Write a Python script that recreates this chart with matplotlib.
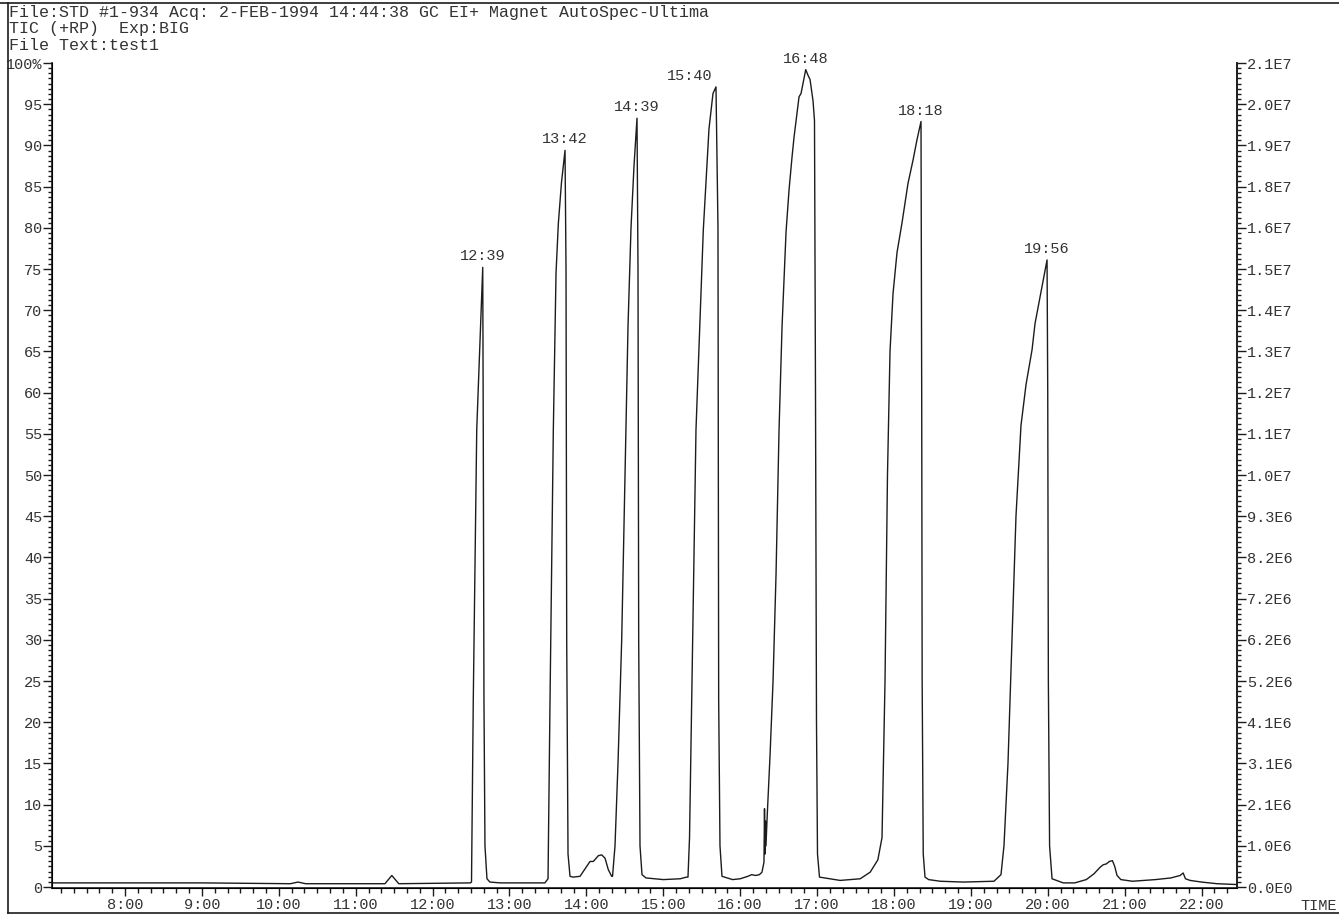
import numpy as np
import matplotlib.pyplot as plt
from matplotlib.lines import Line2D
from matplotlib.ticker import MultipleLocator

plt.rcParams['font.family'] = ['Liberation Mono', 'DejaVu Sans Mono']

# TIC trace: retention time (minutes) and intensity (% of full scale)
time_min = [
    7.051, 9.000, 10.15, 10.25, 10.35, 11.38, 11.47, 11.56, 12.49,
    12.506, 12.529, 12.574, 12.616, 12.652, 12.659, 12.668, 12.681, 12.707, 12.746, 12.88, 13.46,
    13.501, 13.527, 13.570, 13.605, 13.635, 13.676, 13.722, 13.735, 13.744, 13.761, 13.787,
    13.826, 13.917, 14.004, 14.047, 14.090, 14.155, 14.199, 14.242, 14.285, 14.329, 14.340,
    14.372, 14.411, 14.459, 14.502, 14.541, 14.580, 14.619, 14.658, 14.671, 14.680, 14.697, 14.723, 14.775,
    15.00, 15.22, 15.30, 15.321, 15.341, 15.369, 15.425, 15.520, 15.594, 15.646, 15.685, 15.711, 15.720, 15.737, 15.763,
    15.90, 16.00, 16.10, 16.15, 16.20, 16.25, 16.283, 16.309, 16.316, 16.322, 16.329, 16.335, 16.348, 16.388, 16.427,
    16.466, 16.505, 16.544, 16.596, 16.635, 16.674, 16.700, 16.765, 16.791, 16.852, 16.882, 16.908, 16.947, 16.966,
    16.979, 16.992, 17.005, 17.031,
    17.30, 17.56, 17.69, 17.79, 17.844, 17.883, 17.915, 17.948, 17.987, 18.039, 18.104, 18.182, 18.247, 18.299,
    18.351, 18.360, 18.366, 18.380, 18.403, 18.45,
    18.60, 18.90, 19.30, 19.391, 19.430, 19.482, 19.534, 19.586, 19.651, 19.717, 19.795, 19.834, 19.899, 19.990,
    19.999, 20.007, 20.023, 20.055,
    20.20, 20.35, 20.50, 20.60, 20.68, 20.72, 20.76, 20.80, 20.84, 20.87, 20.90, 20.95, 21.10, 21.40, 21.60, 21.72,
    21.76, 21.79, 21.85, 22.00, 22.20, 22.46,
]
intensity_pct = [
    0.5, 0.5, 0.4, 0.6, 0.4, 0.4, 1.4, 0.4, 0.5,
    0.6, 22.7, 55.5, 66.0, 75.2, 55.0, 22.7, 5.0, 1.0, 0.6, 0.5, 0.5,
    1.0, 22.7, 55.5, 74.5, 80.5, 85.5, 89.4, 75.0, 30.0, 4.0, 1.3,
    1.2, 1.3, 2.5, 3.1, 3.1, 3.8, 3.9, 3.5, 2.1, 1.3, 1.3,
    5.0, 15.0, 30.0, 50.0, 68.0, 80.0, 87.5, 93.3, 75.0, 30.0, 5.0, 1.5, 1.1,
    0.9, 1.0, 1.2, 1.2, 6.0, 22.7, 55.5, 79.7, 92.0, 96.3, 97.1, 80.0, 22.7, 5.0, 1.3,
    0.9, 1.0, 1.3, 1.5, 1.4, 1.5, 1.8, 3.0, 9.5, 4.0, 8.0, 5.0, 8.0, 16.0, 25.0,
    38.0, 55.5, 68.0, 79.5, 84.6, 88.6, 91.0, 95.9, 96.3, 99.2, 98.5, 98.0, 95.4, 93.0,
    60.0, 20.0, 4.0, 1.2,
    0.8, 1.0, 1.8, 3.3, 6.0, 25.0, 50.0, 65.0, 72.0, 77.0, 80.6, 85.4, 88.2, 90.7,
    92.9, 60.0, 25.0, 4.0, 1.2, 0.9,
    0.7, 0.6, 0.7, 1.5, 5.0, 15.0, 30.0, 45.0, 56.0, 61.0, 65.2, 68.4, 71.6, 76.1,
    60.0, 25.0, 5.0, 1.0,
    0.5, 0.5, 0.9, 1.6, 2.4, 2.7, 2.8, 3.1, 3.2, 2.5, 1.4, 0.9, 0.7, 0.9, 1.1, 1.4,
    1.7, 1.0, 0.8, 0.6, 0.4, 0.3,
]

# peak annotations (label text, apex time in trace)
peak_labels = ['12:39', '13:42', '14:39', '15:40', '16:48', '18:18', '19:56']
peak_times = [12.652, 13.722, 14.658, 15.685, 16.852, 18.351, 19.990]

header_lines = [
    'File:STD #1-934 Acq: 2-FEB-1994 14:44:38 GC EI+ Magnet AutoSpec-Ultima',
    'TIC (+RP)  Exp:BIG',
    'File Text:test1',
]

x_ticks = [8, 9, 10, 11, 12, 13, 14, 15, 16, 17, 18, 19, 20, 21, 22]
x_tick_labels = ['8:00', '9:00', '10:00', '11:00', '12:00', '13:00', '14:00', '15:00',
                 '16:00', '17:00', '18:00', '19:00', '20:00', '21:00', '22:00']
y_ticks = [0, 5, 10, 15, 20, 25, 30, 35, 40, 45, 50, 55, 60, 65, 70, 75, 80, 85, 90, 95, 100]
y_left_labels = ['0', '5', '10', '15', '20', '25', '30', '35', '40', '45', '50', '55', '60',
                 '65', '70', '75', '80', '85', '90', '95', '100%']
y_right_labels = ['0.0E0', '1.0E6', '2.1E6', '3.1E6', '4.1E6', '5.2E6', '6.2E6', '7.2E6',
                  '8.2E6', '9.3E6', '1.0E7', '1.1E7', '1.2E7', '1.3E7', '1.4E7', '1.5E7',
                  '1.6E7', '1.8E7', '1.9E7', '2.0E7', '2.1E7']

W, H = 1339, 921
ink = '#1c1c1c'
txt = '#333333'
fig = plt.figure(figsize=(W / 100, H / 100), dpi=100)
ax = fig.add_axes([52 / W, 33 / H, (1237 - 52) / W, (888 - 63) / H])

ax.plot(time_min, intensity_pct, color=ink, lw=1.0)
ax.set_xlim(7.051, 22.46)
ax.set_ylim(-0.12, 100)

ax.spines['top'].set_visible(False)
for s in ['left', 'right', 'bottom']:
    ax.spines[s].set_color(ink)
    ax.spines[s].set_linewidth(1.2)

ax.set_xticks(x_ticks, x_tick_labels)
ax.xaxis.set_minor_locator(MultipleLocator(1 / 6))
ax.tick_params(axis='x', which='major', direction='out', length=6, width=1, pad=1.5,
               labelsize=11, color=ink, labelcolor=txt)
ax.tick_params(axis='x', which='minor', direction='out', length=3.5, width=1, color=ink)

ax.set_yticks(y_ticks, y_left_labels)
ax.yaxis.set_minor_locator(MultipleLocator(0.625))
ax.tick_params(axis='y', which='major', direction='out', length=6.5, width=1, pad=0.5,
               labelsize=11, color=ink, labelcolor=txt)
ax.tick_params(axis='y', which='minor', direction='out', length=3, width=1, color=ink)

ax2 = ax.twinx()
ax2.set_ylim(ax.get_ylim())
ax2.spines['top'].set_visible(False)
ax2.spines['right'].set_color(ink)
ax2.spines['right'].set_linewidth(1.2)
ax2.set_yticks(y_ticks, y_right_labels)
ax2.yaxis.set_minor_locator(MultipleLocator(0.625))
ax2.tick_params(axis='y', which='major', direction='out', length=6.5, width=1, pad=0.5,
                labelsize=11, color=ink, labelcolor=txt)
ax2.tick_params(axis='y', which='minor', direction='out', length=3, width=1, color=ink)

# peak labels; the 15:40 label sits left of its apex in the original print
label_shift = {'15:40': -26}
for lab, t in zip(peak_labels, peak_times):
    y = np.interp(t, time_min, intensity_pct)
    ax.annotate(lab, (t, y), xytext=(label_shift.get(lab, 0), 11),
                textcoords='offset pixels', ha='center', va='center',
                fontsize=11, color=txt)

# header text and outer frame
for i, line in enumerate(header_lines):
    fig.text(9 / W, 1 - (12 + 16.5 * i) / H, line, ha='left', va='center',
             fontsize=12, color=txt)
fig.text(1300 / W, 1 - 906 / H, 'TIME', ha='left', va='center', fontsize=11, color=txt)

fig.add_artist(Line2D([0, 1], [1 - 3 / H, 1 - 3 / H], color=ink, lw=1.2))
fig.add_artist(Line2D([8 / W, 8 / W], [1 - 3 / H, 1 - 913 / H], color=ink, lw=1.2))
fig.add_artist(Line2D([8 / W, 1], [1 - 913 / H, 1 - 913 / H], color=ink, lw=1.2))

fig.savefig('out.png', dpi=100, facecolor='white')
